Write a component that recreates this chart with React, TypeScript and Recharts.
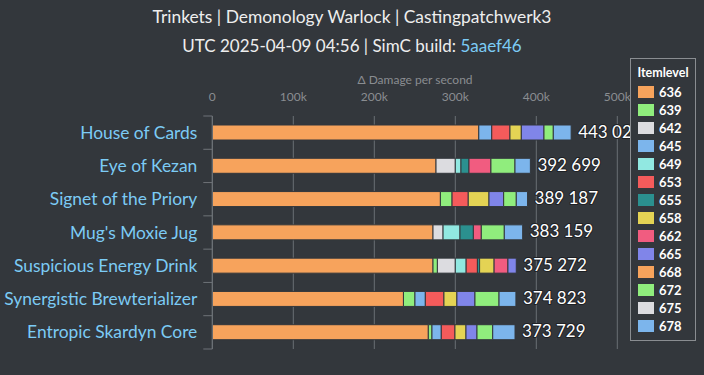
import React from 'react';
import { BarChart, Bar, XAxis, YAxis, CartesianGrid, LabelList } from 'recharts';

const trinkets = [
  'House of Cards',
  'Eye of Kezan',
  'Signet of the Priory',
  "Mug's Moxie Jug",
  'Suspicious Energy Drink',
  'Synergistic Brewterializer',
  'Entropic Skardyn Core',
];
const totals = [443021, 392699, 389187, 383159, 375272, 374823, 373729];

const itemLevels = ['636', '639', '642', '645', '649', '653', '655', '658', '662', '665', '668', '672', '675', '678'];
const ilvlColors = ['#f7a35c', '#90ed7d', '#dcdce0', '#7cb5ec', '#91e8e1', '#f45b5b', '#2b908f', '#e4d354', '#f15c80', '#8085e9', '#f7a35c', '#90ed7d', '#dcdce0', '#7cb5ec'];

const il636 = [329000, 276200, 281600, 272500, 272500, 236000, 266700];
const il639 = [0, 0, 14400, 0, 5400, 14200, 4500];
const il642 = [0, 23800, 0, 12400, 22100, 0, 0];
const il645 = [16000, 0, 0, 0, 0, 12800, 11500];
const il649 = [0, 7000, 0, 20900, 13400, 0, 0];
const il653 = [22500, 0, 20000, 0, 13900, 23000, 16900];
const il655 = [0, 9900, 0, 16500, 2700, 0, 0];
const il658 = [14000, 0, 25600, 0, 17900, 16000, 13600];
const il662 = [0, 27100, 0, 9800, 17100, 0, 0];
const il665 = [28000, 0, 18100, 0, 10272, 22300, 13600];
const il668 = [0, 0, 0, 0, 0, 0, 0];
const il672 = [11500, 29700, 15600, 28400, 0, 29700, 19400];
const il675 = [0, 0, 0, 0, 0, 0, 0];
const il678 = [22021, 18999, 13887, 22659, 0, 20823, 27529];

const xTicks = [0, 100000, 200000, 300000, 400000, 500000];

const seriesValues = [il636, il639, il642, il645, il649, il653, il655, il658, il662, il665, il668, il672, il675, il678];

const data = trinkets.map((name, i) => {
  const row: Record<string, any> = { name, total: totals[i] };
  itemLevels.forEach((lvl, s) => {
    row['il' + lvl] = seriesValues[s][i];
  });
  return row;
});

const BG = '#33373c';
const FONT = "Lato, 'Open Sans', sans-serif";
const W = 704;
const H = 375;
const MARGIN = { top: 96, right: 86.7, bottom: 26, left: 0 };
const X_AXIS_H = 20;
const PLOT_H = H - MARGIN.top - X_AXIS_H - MARGIN.bottom;
const BAND = PLOT_H / trinkets.length;

const fmtTotal = (v: number) => `${Math.floor(v / 1000)} ${String(v % 1000).padStart(3, '0')}`;

const CategoryTick = (props: any) => {
  const { x, y, payload, index } = props;
  const axisX = x + 15;
  return (
    <g>
      <line x1={axisX - 9} x2={axisX} y1={y - BAND / 2} y2={y - BAND / 2} stroke="#6f7378" strokeWidth={1} />
      {index === trinkets.length - 1 && (
        <line x1={axisX - 9} x2={axisX} y1={y + BAND / 2} y2={y + BAND / 2} stroke="#6f7378" strokeWidth={1} />
      )}
      <text x={x} y={y} dy={6} textAnchor="end" fill="#7ccbf5" fontSize={17.4} fontFamily={FONT}>
        {payload.value}
      </text>
    </g>
  );
};

// Attached to the first (always non-zero) series: its own pixel/value ratio
// gives the stack end for the row's total.
const TotalLabel = (props: any) => {
  const { x, y, width, height, value, index } = props;
  const total = totals[index];
  const pxPerUnit = Number(width) / Number(value);
  const endX = Number(x) + total * pxPerUnit;
  const cy = Number(y) + Number(height) / 2;
  return (
    <text
      x={endX + 7}
      y={cy + 5}
      fill="#ffffff"
      fontSize={17}
      fontFamily={FONT}
      stroke="#1e2024"
      strokeWidth={2}
      paintOrder="stroke"
      strokeLinejoin="round"
    >
      {fmtTotal(total)}
    </text>
  );
};

export default function App() {
  return (
    <div style={{ position: 'fixed', left: 0, top: 0, width: W, height: H, background: BG, overflow: 'hidden', fontFamily: FONT }}>
      <div style={{ position: 'absolute', left: 0, top: 5, width: W, textAlign: 'center', color: '#eeeeee', fontSize: 17.4, lineHeight: '24px' }}>
        Trinkets | Demonology Warlock | Castingpatchwerk3
      </div>
      <div style={{ position: 'absolute', left: 0, top: 34, width: W, textAlign: 'center', color: '#eeeeee', fontSize: 17, lineHeight: '24px' }}>
        UTC 2025-04-09 04:56 | SimC build: <span style={{ color: '#7ccbf5' }}>5aaef46</span>
      </div>
      <div style={{ position: 'absolute', left: 315, top: 72, width: 200, textAlign: 'center', color: '#8a8d91', fontSize: 12, lineHeight: '16px' }}>
        Δ Damage per second
      </div>
      <BarChart
        width={W}
        height={H}
        data={data}
        layout="vertical"
        margin={MARGIN}
        barSize={15}
        style={{ position: 'absolute', left: 0, top: 0 }}
      >
        <CartesianGrid horizontal={false} vertical={true} stroke="#6a6e73" />
        <XAxis
          type="number"
          orientation="top"
          domain={[0, 500000]}
          ticks={xTicks}
          interval={0}
          height={X_AXIS_H}
          axisLine={false}
          tickLine={false}
          tickSize={0}
          tickMargin={15}
          tickFormatter={(v: number) => (v === 0 ? '0' : `${v / 1000}k`)}
          tick={{ fill: '#8a8d91', fontSize: 12, fontFamily: FONT }}
        />
        <YAxis
          type="category"
          dataKey="name"
          width={212.3}
          axisLine={{ stroke: '#6f7378' }}
          tickLine={false}
          tickSize={0}
          tickMargin={15}
          interval={0}
          tick={<CategoryTick />}
        />
        {itemLevels.map((lvl, s) => (
          <Bar
            key={lvl}
            dataKey={'il' + lvl}
            stackId="a"
            fill={ilvlColors[s]}
            stroke={BG}
            strokeWidth={1}
            isAnimationActive={false}
          >
            {s === 0 && <LabelList dataKey={'il' + lvl} content={<TotalLabel />} />}
          </Bar>
        ))}
      </BarChart>
      <div
        style={{
          position: 'absolute',
          left: 630,
          top: 58,
          width: 64,
          height: 281,
          border: '1px solid #8a8d91',
          background: BG,
          boxSizing: 'content-box',
        }}
      >
        <div style={{ position: 'absolute', left: 0, top: 6, width: 64, textAlign: 'center', color: '#ffffff', fontWeight: 700, fontSize: 12.5 }}>
          Itemlevel
        </div>
        {itemLevels.map((lvl, s) => (
          <div key={lvl} style={{ position: 'absolute', left: 7, top: 27 + s * 18, height: 12, display: 'flex', alignItems: 'center' }}>
            <div style={{ width: 16, height: 12, background: ilvlColors[s] }} />
            <span style={{ marginLeft: 5, color: '#ffffff', fontWeight: 700, fontSize: 13 }}>{lvl}</span>
          </div>
        ))}
      </div>
    </div>
  );
}
